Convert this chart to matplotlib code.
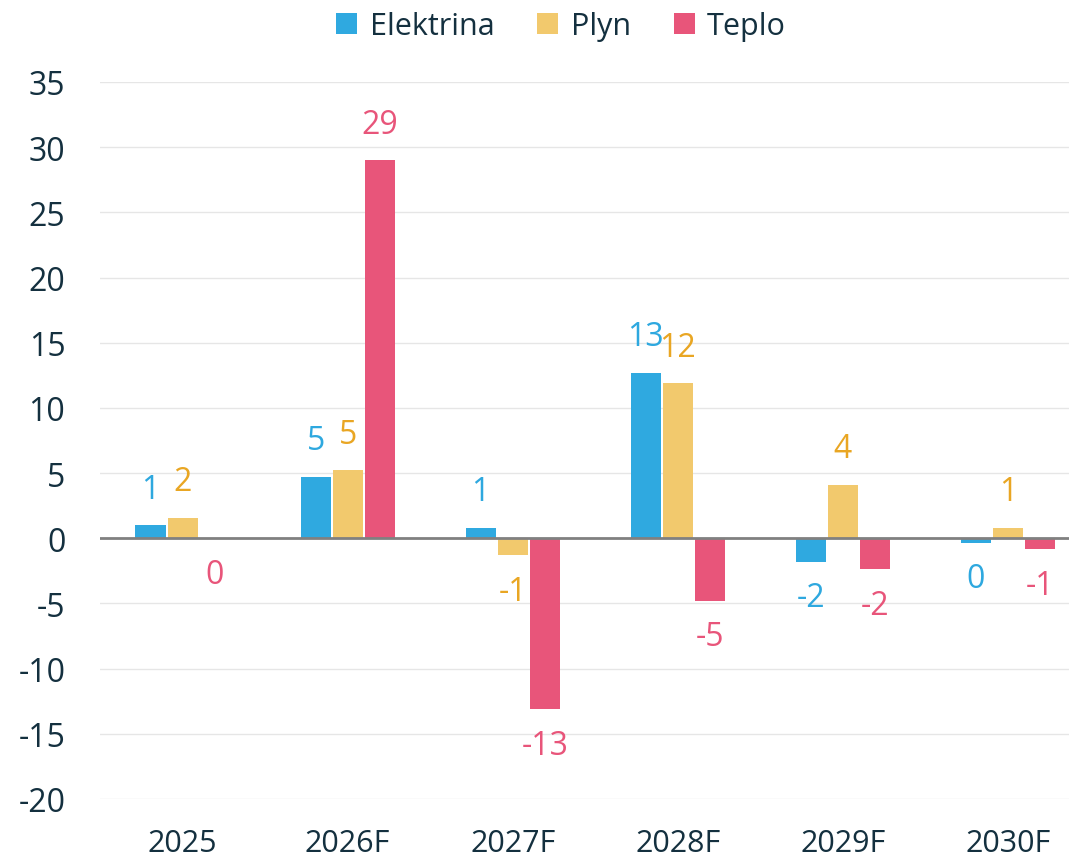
import matplotlib.pyplot as plt
import numpy as np

# Data
categories = ['2025', '2026F', '2027F', '2028F', '2029F', '2030F']
elektrina = [1.0, 4.7, 0.8, 12.7, -1.8, -0.35]
plyn = [1.55, 5.2, -1.3, 11.9, 4.1, 0.8]
teplo = [-0.04, 29.0, -13.1, -4.8, -2.35, -0.85]

series = [
    ('Elektrina', elektrina, '#2FA9E0', '#2EA8DF'),
    ('Plyn', plyn, '#F2C96D', '#E9A623'),
    ('Teplo', teplo, '#E8557A', '#E8557A'),
]

text_col = '#14303F'
plt.rcParams['font.family'] = ['Open Sans', 'DejaVu Sans']
plt.rcParams['axes.unicode_minus'] = False

fig = plt.figure(figsize=(10.69, 8.62), dpi=100)
ax = fig.add_axes([100 / 1069, 62 / 862, 969 / 1069, 717 / 862])

x = np.arange(len(categories))
step = 0.194
width = 0.182

handles = []
for i, (name, vals, col, lcol) in enumerate(series):
    pos = x + (i - 1) * step
    b = ax.bar(pos, vals, width, color=col, label=name, zorder=3)
    handles.append(b)
    for px, v in zip(pos, vals):
        lab = str(int(round(v))) if round(v) != 0 else '0'
        off = 26 if v >= 0 else -26
        ax.annotate(lab, (px, v), xytext=(0, off), textcoords='offset points',
                    ha='center', va='center', fontsize=23, color=lcol, zorder=4)

ax.axhline(0, color='#808080', lw=2, zorder=4)
ax.set_ylim(-20, 35)
ax.set_xlim(-0.5, 5.37)
ax.set_yticks(range(-20, 36, 5))
ax.grid(axis='y', color='#E6E6E6', lw=1, zorder=0)
ax.set_xticks(x)
ax.set_xticklabels(categories)
ax.tick_params(axis='x', length=0, pad=21, labelsize=22, labelcolor=text_col)
ax.tick_params(axis='y', length=0, pad=25, labelsize=23, labelcolor=text_col)
for s in ax.spines.values():
    s.set_visible(False)

fig.legend(handles=handles, loc='center', bbox_to_anchor=(561 / 1069, 1 - 27 / 862),
           ncol=3, frameon=False, fontsize=22, labelcolor=text_col,
           handlelength=0.7, handleheight=0.7, handletextpad=0.4, columnspacing=1.4)

fig.savefig('out.png', dpi=100)
